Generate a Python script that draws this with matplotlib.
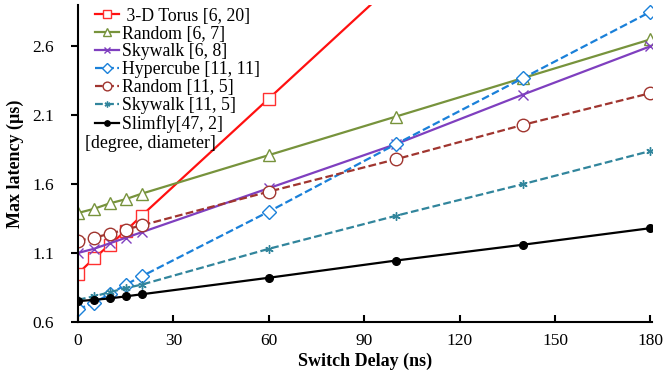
import matplotlib
matplotlib.use('Agg')
from matplotlib import pyplot as plt

delay = [0, 5, 10, 15, 20, 60, 100, 140, 180]
torus_x = [0, 5, 10, 15, 20, 60, 100]
torus = [0.95, 1.06, 1.16, 1.26, 1.37, 2.22, 3.07]
random_6_7 = [1.39, 1.42, 1.46, 1.49, 1.53, 1.81, 2.09, 2.37, 2.65]
skywalk_6_8 = [1.10, 1.13, 1.17, 1.21, 1.25, 1.57, 1.89, 2.25, 2.60]
hypercube = [0.69, 0.74, 0.80, 0.87, 0.93, 1.40, 1.89, 2.37, 2.85]
random_11_5 = [1.19, 1.21, 1.24, 1.27, 1.30, 1.545, 1.78, 2.03, 2.26]
skywalk_11_5 = [0.76, 0.785, 0.815, 0.845, 0.87, 1.13, 1.37, 1.60, 1.84]
slimfly = [0.75, 0.76, 0.77, 0.785, 0.80, 0.92, 1.045, 1.16, 1.28]

plt.rcParams['font.family'] = ['Liberation Serif', 'DejaVu Serif']

fig = plt.figure(figsize=(6.66, 3.8), dpi=100)
ax = fig.add_axes([0.117, 0.153, 0.862, 0.834])

ax.plot(torus_x, torus, c='#FF1010', lw=1.6, marker='s', ms=9, mfc='white',
        mec='#FF3030', mew=1.0, label=' 3-D Torus [6, 20]')
ax.plot(delay, random_6_7, c='#77933C', lw=1.6, marker='^', ms=9, mfc='white',
        mec='#77933C', mew=1.0, label='Random [6, 7]')
ax.plot(delay, skywalk_6_8, c='#7F3FBF', lw=1.6, marker='x', ms=7, mew=1.0,
        label='Skywalk [6, 8]')
ax.plot(delay, hypercube, c='#1A80D9', lw=1.6, ls=(0, (3.5, 1.5)), marker='D', ms=7,
        mfc='white', mec='#1A80D9', mew=1.0, label='Hypercube [11, 11]')
ax.plot(delay, random_11_5, c='#A0352F', lw=1.6, ls=(0, (3.5, 1.5)), marker='o', ms=9,
        mfc='white', mec='#A0352F', mew=1.0, label='Random [11, 5]')
ax.plot(delay, skywalk_11_5, c='#31859C', lw=1.6, ls=(0, (3.5, 1.5)), marker=(6, 2, 0),
        ms=6, mew=1.0, label='Skywalk [11, 5]')
ax.plot(delay, slimfly, c='black', lw=1.6, marker='o', ms=5.5,
        label='Slimfly[47, 2]')

ax.set_xlim(0, 180.5)
ax.set_ylim(0.6, 2.9)
ax.set_xticks([0, 30, 60, 90, 120, 150, 180])
ax.set_yticks([0.6, 1.1, 1.6, 2.1, 2.6])
ax.spines['top'].set_visible(False)
ax.spines['right'].set_visible(False)
ax.spines['left'].set_linewidth(1.5)
ax.spines['bottom'].set_linewidth(1.5)
ax.tick_params(axis='y', direction='out', length=5, width=1.5, labelsize=12.5, pad=12)
ax.tick_params(axis='x', direction='in', length=5, width=1.5, labelsize=12.5, pad=8)

ax.set_xlabel('Switch Delay (ns)', fontsize=13, fontweight='bold', labelpad=3)
ax.set_ylabel('Max latency (µs)', fontsize=13, fontweight='bold', labelpad=6)

leg = ax.legend(loc='upper left', bbox_to_anchor=(0.012, 1.025), frameon=False,
                fontsize=12.8, handlelength=1.35, handletextpad=0.15, markerscale=0.7,
                labelspacing=0.05, borderaxespad=0.2)
ax.text(0.012, 0.563, '[degree, diameter]', transform=ax.transAxes,
        fontsize=12.8, va='center', ha='left')

fig.savefig('out.png', dpi=100)
